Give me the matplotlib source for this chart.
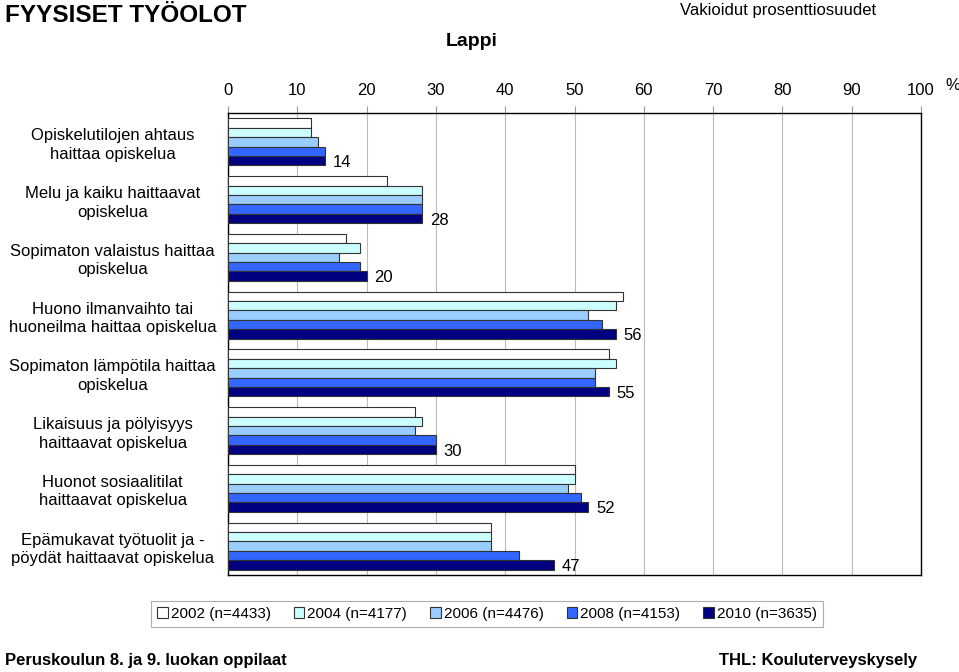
import matplotlib.pyplot as plt
import numpy as np

plt.rcParams['font.family'] = ['Liberation Sans', 'DejaVu Sans']

# categories (top to bottom)
categories = [
    "Opiskelutilojen ahtaus\nhaittaa opiskelua",
    "Melu ja kaiku haittaavat\nopiskelua",
    "Sopimaton valaistus haittaa\nopiskelua",
    "Huono ilmanvaihto tai\nhuoneilma haittaa opiskelua",
    "Sopimaton lämpötila haittaa\nopiskelua",
    "Likaisuus ja pölyisyys\nhaittaavat opiskelua",
    "Huonot sosiaalitilat\nhaittaavat opiskelua",
    "Epämukavat työtuolit ja -\npöydät haittaavat opiskelua",
]
series_labels = ["2002 (n=4433)", "2004 (n=4177)", "2006 (n=4476)",
                 "2008 (n=4153)", "2010 (n=3635)"]
v2002 = [12, 23, 17, 57, 55, 27, 50, 38]
v2004 = [12, 28, 19, 56, 56, 28, 50, 38]
v2006 = [13, 28, 16, 52, 53, 27, 49, 38]
v2008 = [14, 28, 19, 54, 53, 30, 51, 42]
v2010 = [14, 28, 20, 56, 55, 30, 52, 47]
values = [v2002, v2004, v2006, v2008, v2010]
colors = ["#FFFFFF", "#CCFFFF", "#99CCFF", "#3366FF", "#000080"]

fig = plt.figure(figsize=(9.59, 6.72), dpi=100)
ax = fig.add_axes([228/959, 1-575/672, (921-228)/959, (575-113)/672])

y = np.arange(len(categories))
h = 0.163
for i, (vals, c) in enumerate(zip(values, colors)):
    ax.barh(y - 2*h + i*h, vals, height=h, color=c, edgecolor="#333333",
            linewidth=0.8, label=series_labels[i], zorder=3)

# value labels for the last year
for yi, v in zip(y, v2010):
    ax.text(v + 1.1, yi + 2*h + 0.03, str(v), va="center", ha="left", fontsize=12)

ax.set_xlim(0, 100)
ax.set_ylim(len(categories) - 0.5, -0.5)
ax.set_xticks(range(0, 101, 10))
ax.xaxis.tick_top()
ax.tick_params(axis="x", length=5, color="#999999", labelsize=12, pad=6)
ax.set_yticks(y)
ax.set_yticklabels(categories, fontsize=12, ha="center", multialignment="center",
                   linespacing=1.3)
ax.tick_params(axis="y", length=0, pad=83)
ax.grid(axis="x", color="#BBBBBB", linewidth=0.8, zorder=0)
for s in ax.spines.values():
    s.set_color("black")
    s.set_linewidth(1)

fig.text(945/959, 1-85/672, "%", fontsize=12, ha="left", va="center")

fig.text(5/959, 1-15/672, "FYYSISET TYÖOLOT", fontsize=17.5, fontweight="bold",
         ha="left", va="center")
fig.text(472/959, 1-42/672, "Lappi", fontsize=14, fontweight="bold",
         ha="center", va="center")
fig.text(778/959, 1-11/672, "Vakioidut prosenttiosuudet", fontsize=12,
         ha="center", va="center")
fig.text(5/959, 1-661/672, "Peruskoulun 8. ja 9. luokan oppilaat", fontsize=12,
         fontweight="bold", ha="left", va="center")
fig.text(917/959, 1-661/672, "THL: Kouluterveyskysely", fontsize=12,
         fontweight="bold", ha="right", va="center")

leg = fig.legend(loc="center", bbox_to_anchor=(487/959, 1-614/672), ncol=5,
                 fontsize=11, frameon=True, fancybox=False, handlelength=0.7,
                 handleheight=0.7, handletextpad=0.2, columnspacing=1.5,
                 borderpad=0.4)
leg.get_frame().set_edgecolor("#999999")
leg.get_frame().set_linewidth(0.8)

fig.savefig("out.png", dpi=100)
